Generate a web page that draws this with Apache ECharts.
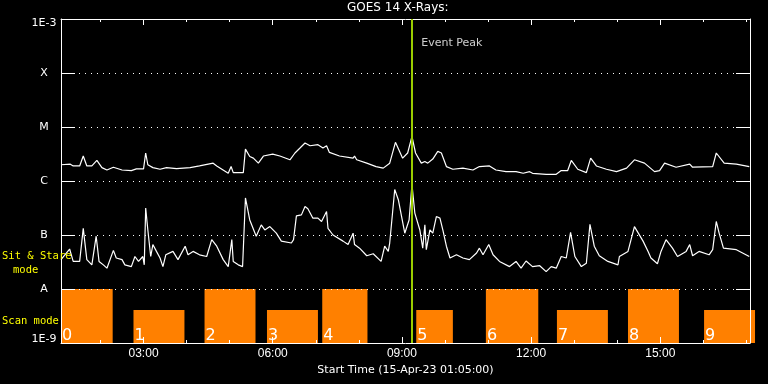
<!DOCTYPE html>
<html><head><meta charset="utf-8">
<script src="https://cdn.jsdelivr.net/npm/echarts@6/dist/echarts.min.js"></script>
<style>html,body{margin:0;padding:0;background:#000;}#c{width:768px;height:384px;}</style>
</head><body><div id="c"></div>
<script>
const titleText = 'GOES 14 X-Rays:';
const xAxisName = 'Start Time (15-Apr-23 01:05:00)';
const startTime = '01:05';
const endTime = '17:05';
const majorTicks = ['03:00','06:00','09:00','12:00','15:00'];
const minorTicks = ['02:00','03:00','04:00','05:00','06:00','07:00','08:00','09:00','10:00','11:00','12:00','13:00','14:00','15:00','16:00','17:00'];
const yMin = 1e-9, yMax = 1e-3;
const yTickLabels = {'-9':'1E-9','-8':'A','-7':'B','-6':'C','-5':'M','-4':'X','-3':'1E-3'};

// GOES long channel (1-8 A), W/m^2
const longTimes = ["01:05","01:18","01:22","01:31","01:36","01:41","01:48","01:55","02:02","02:09","02:18","02:30","02:43","02:50","03:00","03:03","03:06","03:13","03:23","03:32","03:46","04:05","04:18","04:37","04:42","04:58","05:02","05:05","05:19","05:22","05:28","05:33","05:40","05:47","06:00","06:10","06:24","06:31","06:38","06:45","06:52","07:03","07:10","07:15","07:19","07:33","07:52","07:54","07:57","08:11","08:24","08:34","08:43","08:51","09:01","09:08","09:14","09:19","09:27","09:32","09:36","09:43","09:50","09:55","10:02","10:11","10:25","10:39","10:48","11:02","11:11","11:25","11:39","11:49","11:58","12:02","12:21","12:35","12:42","12:51","12:56","13:05","13:17","13:23","13:31","13:45","13:59","14:13","14:24","14:38","14:52","14:59","15:06","15:22","15:41","15:45","16:13","16:18","16:29","16:46","17:04"];
const longFlux = [2.0e-6,2.05e-6,1.9e-6,1.9e-6,2.9e-6,1.9e-6,1.9e-6,2.4e-6,1.77e-6,1.6e-6,1.8e-6,1.6e-6,1.56e-6,1.68e-6,1.68e-6,3.3e-6,2.0e-6,1.77e-6,1.65e-6,1.77e-6,1.7e-6,1.77e-6,1.9e-6,2.14e-6,1.9e-6,1.39e-6,1.85e-6,1.43e-6,1.43e-6,3.9e-6,2.84e-6,2.65e-6,2.14e-6,2.9e-6,3.15e-6,2.9e-6,2.47e-6,3.3e-6,4.08e-6,5.06e-6,4.5e-6,4.7e-6,4.1e-6,4.5e-6,3.38e-6,2.9e-6,2.65e-6,2.9e-6,2.47e-6,2.14e-6,1.85e-6,1.73e-6,2.14e-6,5.2e-6,2.65e-6,3.3e-6,6.7e-6,3.3e-6,2.14e-6,2.3e-6,2.14e-6,2.55e-6,3.53e-6,3.3e-6,1.85e-6,1.65e-6,1.73e-6,1.6e-6,1.85e-6,1.9e-6,1.6e-6,1.49e-6,1.49e-6,1.39e-6,1.49e-6,1.39e-6,1.33e-6,1.33e-6,1.56e-6,1.56e-6,2.4e-6,1.65e-6,1.43e-6,2.65e-6,1.9e-6,1.65e-6,1.49e-6,1.73e-6,2.47e-6,2.14e-6,1.49e-6,1.56e-6,2.14e-6,1.8e-6,2.05e-6,1.8e-6,1.85e-6,3.3e-6,2.14e-6,2.05e-6,1.85e-6];

// GOES short channel (0.5-4 A), W/m^2
const shortTimes = ["01:05","01:17","01:22","01:31","01:36","01:41","01:48","01:54","01:58","02:04","02:09","02:18","02:22","02:30","02:34","02:43","02:48","02:53","02:59","03:01","03:03","03:06","03:10","03:13","03:18","03:23","03:27","03:31","03:41","03:48","03:58","04:02","04:09","04:18","04:28","04:35","04:42","04:51","04:58","05:03","05:05","05:12","05:18","05:22","05:28","05:37","05:44","05:49","05:56","06:05","06:12","06:26","06:29","06:33","06:40","06:45","06:49","06:56","07:03","07:08","07:15","07:17","07:24","07:38","07:45","07:52","07:54","08:01","08:11","08:20","08:31","08:36","08:41","08:43","08:50","08:55","09:04","09:10","09:14","09:18","09:25","09:29","09:32","09:34","09:39","09:43","09:48","09:53","09:57","10:02","10:07","10:16","10:25","10:34","10:44","10:48","10:53","11:01","11:07","11:16","11:30","11:39","11:46","11:53","12:02","12:12","12:21","12:28","12:35","12:42","12:49","12:55","13:01","13:10","13:17","13:22","13:28","13:35","13:47","14:01","14:03","14:15","14:24","14:36","14:43","14:47","14:56","15:01","15:08","15:17","15:24","15:36","15:41","15:45","15:54","16:08","16:13","16:18","16:22","16:28","16:46","17:04"];
const shortFlux = [3.5e-8,5.5e-8,3.24e-8,3.24e-8,1.33e-7,3.5e-8,2.8e-8,9.5e-8,3.24e-8,2.8e-8,2.43e-8,5.2e-8,3.75e-8,3.5e-8,2.8e-8,2.6e-8,4.0e-8,3.24e-8,4.0e-8,2.8e-8,3.15e-7,1.24e-7,4.0e-8,6.65e-8,4.97e-8,3.75e-8,2.6e-8,4.3e-8,4.97e-8,3.5e-8,6.2e-8,4.3e-8,4.97e-8,4.3e-8,4.0e-8,8.2e-8,6.2e-8,3.5e-8,2.6e-8,8.2e-8,3.24e-8,2.8e-8,2.6e-8,4.85e-7,1.9e-7,9.5e-8,1.54e-7,1.24e-7,1.43e-7,1.08e-7,7.7e-8,7.1e-8,8.2e-8,2.26e-7,2.36e-7,3.38e-7,3.06e-7,2.05e-7,2.05e-7,1.78e-7,2.72e-7,1.33e-7,1.0e-7,7.7e-8,6.65e-8,1.08e-7,6.65e-8,5.7e-8,4.13e-8,4.5e-8,3.24e-8,6.2e-8,4.97e-8,7.1e-8,6.94e-7,4.5e-7,1.08e-7,1.9e-7,8.6e-7,2.55e-7,1.24e-7,5.7e-8,1.54e-7,5.35e-8,1.24e-7,1.08e-7,2.2e-7,2.05e-7,1.24e-7,6.2e-8,3.75e-8,4.3e-8,3.75e-8,3.5e-8,4.65e-8,5.7e-8,4.3e-8,6.65e-8,4.3e-8,3.24e-8,2.6e-8,3.24e-8,2.43e-8,3.3e-8,2.6e-8,2.7e-8,2.1e-8,2.6e-8,2.43e-8,4.0e-8,3.75e-8,1.12e-7,4.0e-8,2.6e-8,3.0e-8,1.58e-7,6.2e-8,4.13e-8,3.24e-8,2.8e-8,4.0e-8,4.97e-8,1.43e-7,7.7e-8,4.97e-8,3.75e-8,2.93e-8,4.97e-8,8.2e-8,5.7e-8,4.0e-8,4.97e-8,6.65e-8,4.13e-8,4.97e-8,4.3e-8,5.35e-8,1.78e-7,1.08e-7,5.7e-8,5.35e-8,4.0e-8];

// Observing mode intervals
const barStart = ["01:05","02:46","04:25","05:52","07:09","09:20","10:57","12:36","14:15","16:01"];
const barEnd   = ["02:17","03:57","05:36","07:03","08:12","10:11","12:10","13:47","15:26","17:12"];
const barMode  = ["stare","scan","stare","scan","stare","scan","stare","scan","stare","scan"];
const barLabels = ["0","1","2","3","4","5","6","7","8","9"];
const modeLevel = {stare: 1e-8, scan: 4.1e-9};

const peakTime = '09:13';
const peakLabel = 'Event Peak';
const peakLabelLevel = 3.6e-4;

function toH(s){const p=s.split(':');return (+p[0])+(+p[1])/60;}
function pad(n){return (n<10?'0':'')+n;}

const xMin = toH(startTime), xMax = toH(endTime);
const white = '#ffffff';

function xAx(pos, len, ticks, opts){
  return Object.assign({
    type:'value', min:xMin, max:xMax, position:pos, z:6,
    axisLine:{show:false},
    axisTick:{show:true, inside:true, length:len, customValues:ticks.map(toH), lineStyle:{color:white,width:1}},
    axisLabel:{show:false},
    splitLine:{show:false}
  }, opts||{});
}

const chart = echarts.init(document.getElementById('c'), null, {renderer:'canvas'});
chart.setOption({
  backgroundColor:'#000000',
  animation:false,
  title:{text:titleText, left:347, top:2, padding:0,
    textStyle:{color:white, fontFamily:'DejaVu Sans', fontSize:12, fontWeight:'normal'}},
  grid:{left:61, top:19, right:18, bottom:41, containLabel:false},
  xAxis:[
    xAx('bottom', 6, majorTicks, {
      axisLine:{show:true, lineStyle:{color:white,width:1}},
      axisLabel:{show:true, customValues:majorTicks.map(toH), color:white, fontFamily:'Liberation Sans', fontSize:12, margin:5,
        formatter:v=>pad(Math.round(v))+':00'},
      name:xAxisName, nameLocation:'middle', nameGap:18,
      nameTextStyle:{color:white, fontFamily:'DejaVu Sans', fontSize:11}
    }),
    xAx('bottom', 3, minorTicks),
    xAx('top', 6, majorTicks, {axisLine:{show:true, lineStyle:{color:white,width:1}}}),
    xAx('top', 3, minorTicks)
  ],
  yAxis:[
    {type:'log', logBase:10, min:yMin, max:yMax, interval:1, splitNumber:6, position:'left', z:5,
      axisLine:{show:true, lineStyle:{color:white,width:1}},
      axisTick:{show:true, inside:true, length:14, lineStyle:{color:white,width:1}},
      axisLabel:{color:white, fontFamily:'DejaVu Sans', fontSize:11, align:'center', margin:17,
        formatter:v=>{
          const e = Math.round(Math.log10(v));
          const t = yTickLabels[String(e)]||'';
          if (e === -3) return '{top|'+t+'}';
          if (e === -9) return '{bot|'+t+'}';
          return t;
        },
        rich:{
          top:{color:white, fontFamily:'DejaVu Sans', fontSize:11, padding:[8,0,0,0]},
          bot:{color:white, fontFamily:'DejaVu Sans', fontSize:11, padding:[0,0,7,0]}
        }},
      splitLine:{show:true, lineStyle:{color:white, width:1, type:[1,5]}}
    },
    {type:'log', logBase:10, min:yMin, max:yMax, interval:1, splitNumber:6, position:'right', z:5,
      axisLine:{show:true, lineStyle:{color:white,width:1}},
      axisTick:{show:true, inside:true, length:14, lineStyle:{color:white,width:1}},
      axisLabel:{show:false}, splitLine:{show:false}
    }
  ],
  graphic:[
    {type:'text', left:2, top:251, style:{text:'Sit & Stare', fill:'#ffff00', font:'10.5px "DejaVu Sans Mono"'}, z:10},
    {type:'text', left:13, top:265, style:{text:'mode', fill:'#ffff00', font:'10.5px "DejaVu Sans Mono"'}, z:10},
    {type:'text', left:2, top:316, style:{text:'Scan mode', fill:'#ffff00', font:'10.5px "DejaVu Sans Mono"'}, z:10}
  ],
  series:[
    {type:'custom', xAxisIndex:0, yAxisIndex:0, clip:false, z:1,
      data:barStart.map((s,i)=>[toH(s), toH(barEnd[i]), modeLevel[barMode[i]], barLabels[i]]),
      renderItem:(params, api)=>{
        const p0 = api.coord([api.value(0), api.value(2)]);
        const p1 = api.coord([api.value(1), yMin]);
        return {type:'group', children:[
          {type:'rect', shape:{x:p0[0], y:p0[1], width:p1[0]-p0[0], height:p1[1]-p0[1]}, style:{fill:'#ff8000'}},
          {type:'text', x:p0[0]+1, y:p1[1]+1, style:{text:barLabels[params.dataIndex], fill:white, font:'16px "DejaVu Sans"', verticalAlign:'bottom', align:'left'}}
        ]};
      }
    },
    {type:'line', name:'long', xAxisIndex:0, yAxisIndex:0, showSymbol:false, z:3,
      data:longTimes.map((t,i)=>[toH(t), longFlux[i]]),
      lineStyle:{color:white, width:1.2}},
    {type:'line', name:'short', xAxisIndex:0, yAxisIndex:0, showSymbol:false, z:3,
      data:shortTimes.map((t,i)=>[toH(t), shortFlux[i]]),
      lineStyle:{color:white, width:1.2}},
    {type:'scatter', xAxisIndex:0, yAxisIndex:0, z:8, symbolSize:0,
      data:[[toH(peakTime), peakLabelLevel]],
      label:{show:true, position:'right', distance:10, formatter:peakLabel, color:white, fontFamily:'DejaVu Sans', fontSize:11},
      markLine:{silent:true, symbol:['none','none'], animation:false, z:8,
        data:[{xAxis:toH(peakTime)}],
        lineStyle:{color:'#9acd00', width:2, type:'solid'}, label:{show:false}}
    }
  ]
});
</script></body></html>
